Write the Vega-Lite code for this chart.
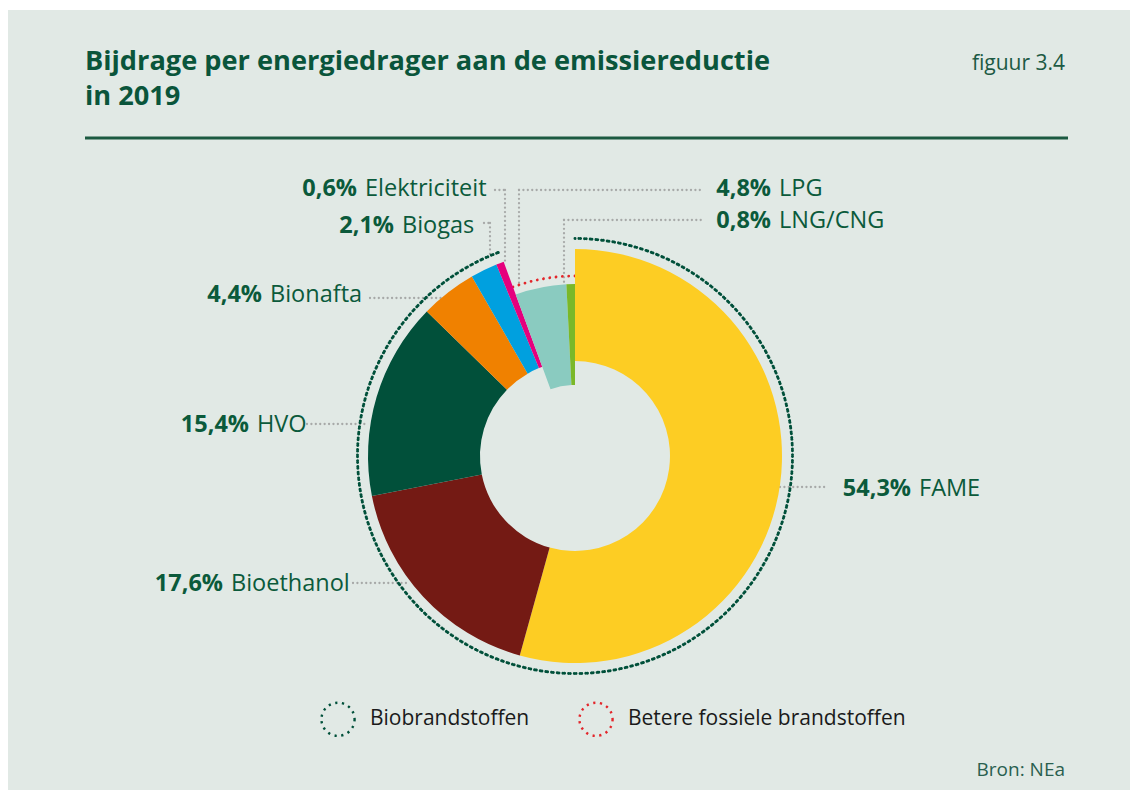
{
  "$schema": "https://vega.github.io/schema/vega-lite/v6.json",
  "width": 1122,
  "height": 780,
  "autosize": {"type": "none"},
  "padding": {"left": 8, "top": 10, "right": 5, "bottom": 6},
  "background": "#ffffff",
  "config": {
    "view": {"fill": "#e1e9e5", "stroke": null},
    "font": "Open Sans",
    "locale": {"number": {"decimal": ",", "thousands": ".", "grouping": [3], "currency": ["€", ""]}}
  },
  "datasets": {
    "energy": [
      {"name": "FAME", "share": 54.3, "group": "Biobrandstoffen", "order": 1},
      {"name": "Bioethanol", "share": 17.6, "group": "Biobrandstoffen", "order": 2},
      {"name": "HVO", "share": 15.4, "group": "Biobrandstoffen", "order": 3},
      {"name": "Bionafta", "share": 4.4, "group": "Biobrandstoffen", "order": 4},
      {"name": "Biogas", "share": 2.1, "group": "Biobrandstoffen", "order": 5},
      {"name": "Elektriciteit", "share": 0.6, "group": "Biobrandstoffen", "order": 6},
      {"name": "LPG", "share": 4.8, "group": "Betere fossiele brandstoffen", "order": 7},
      {"name": "LNG/CNG", "share": 0.8, "group": "Betere fossiele brandstoffen", "order": 8}
    ],
    "labelAnchors": [
      {"name": "FAME", "lx": 344, "ly": -40},
      {"name": "Bioethanol", "lx": -344, "ly": -135},
      {"name": "HVO", "lx": -318, "ly": 24},
      {"name": "Bionafta", "lx": -305, "ly": 154},
      {"name": "Biogas", "lx": -173, "ly": 223},
      {"name": "Elektriciteit", "lx": -210, "ly": 260},
      {"name": "LPG", "lx": 204, "ly": 260},
      {"name": "LNG/CNG", "lx": 204, "ly": 228}
    ],
    "leaders": [
      {"name": "Elektriciteit", "x": -80, "y": 266, "x2": -70, "y2": 266},
      {"name": "Elektriciteit", "x": -70, "y": 266, "x2": -70, "y2": 193},
      {"name": "Biogas", "x": -91, "y": 233, "x2": -85, "y2": 233},
      {"name": "Biogas", "x": -85, "y": 233, "x2": -85, "y2": 198},
      {"name": "Bionafta", "x": -205, "y": 158, "x2": -132, "y2": 158},
      {"name": "HVO", "x": -268, "y": 32, "x2": -208, "y2": 32},
      {"name": "Bioethanol", "x": -222, "y": -127, "x2": -165, "y2": -127},
      {"name": "FAME", "x": 205, "y": -31, "x2": 253, "y2": -31},
      {"name": "LPG", "x": -56, "y": 266, "x2": 127, "y2": 266},
      {"name": "LPG", "x": -56, "y": 266, "x2": -56, "y2": 169},
      {"name": "LNG/CNG", "x": -11, "y": 236, "x2": 127, "y2": 236},
      {"name": "LNG/CNG", "x": -11, "y": 236, "x2": -11, "y2": 166}
    ]
  },
  "layer": [
    {
      "data": {"name": "leaders"},
      "mark": {"type": "rule", "stroke": "#a7a9a8", "strokeWidth": 2.3, "strokeCap": "round", "strokeDash": [0.01, 4.4]},
      "encoding": {
        "x": {"field": "x", "type": "quantitative", "scale": {"domain": [-567, 555], "nice": false, "zero": false}, "axis": null},
        "y": {"field": "y", "type": "quantitative", "scale": {"domain": [-334, 446], "nice": false, "zero": false}, "axis": null},
        "x2": {"field": "x2"},
        "y2": {"field": "y2"}
      }
    },
    {
      "data": {"name": "energy"},
      "transform": [
        {"aggregate": [{"op": "sum", "field": "share", "as": "share"}, {"op": "min", "field": "order", "as": "order"}], "groupby": ["group"]},
        {"stack": "share", "groupby": [], "sort": [{"field": "order", "order": "ascending"}], "as": ["t0", "t1"]},
        {"filter": "datum.group === 'Biobrandstoffen'"}
      ],
      "mark": {"type": "arc", "filled": false, "innerRadius": 217.5, "outerRadius": 217.5, "strokeWidth": 3, "strokeCap": "round", "strokeDash": [0.01, 5.6857]},
      "encoding": {
        "x": {"datum": 0, "type": "quantitative", "scale": {"domain": [-567, 555], "nice": false, "zero": false}, "axis": null},
        "y": {"datum": 0, "type": "quantitative", "scale": {"domain": [-334, 446], "nice": false, "zero": false}, "axis": null},
        "theta": {"field": "t0", "type": "quantitative", "scale": {"domain": [0, 100], "range": [0, 6.283185307179586]}},
        "theta2": {"field": "t1"},
        "stroke": {
          "field": "group", "type": "nominal",
          "scale": {"domain": ["Biobrandstoffen", "Betere fossiele brandstoffen"], "range": ["#00503a", "#e3262b"]},
          "legend": {
            "title": null, "orient": "none", "legendX": 312, "legendY": 691, "direction": "horizontal",
            "symbolType": "circle", "symbolSize": 1100, "symbolStrokeWidth": 2.4, "symbolDash": [2.2, 4.6],
            "symbolFillColor": "transparent", "labelFont": "Open Sans", "labelFontSize": 21, "labelColor": "#1a1a1a",
            "labelOffset": 14, "columnPadding": 44, "labelLimit": 500, "padding": 0
          }
        }
      }
    },
    {
      "data": {"name": "energy"},
      "transform": [
        {"aggregate": [{"op": "sum", "field": "share", "as": "share"}, {"op": "min", "field": "order", "as": "order"}], "groupby": ["group"]},
        {"stack": "share", "groupby": [], "sort": [{"field": "order", "order": "ascending"}], "as": ["t0", "t1"]},
        {"filter": "datum.group === 'Betere fossiele brandstoffen'"}
      ],
      "mark": {"type": "arc", "filled": false, "innerRadius": 180, "outerRadius": 180, "strokeWidth": 2.8, "strokeCap": "round", "strokeDash": [0.01, 6.3234]},
      "encoding": {
        "x": {"datum": 0, "type": "quantitative"},
        "y": {"datum": 0, "type": "quantitative"},
        "theta": {"field": "t0", "type": "quantitative", "scale": {"domain": [0, 100], "range": [0, 6.283185307179586]}},
        "theta2": {"field": "t1"},
        "stroke": {"field": "group", "type": "nominal"}
      }
    },
    {
      "data": {"name": "energy"},
      "transform": [
        {"stack": "share", "groupby": [], "sort": [{"field": "order", "order": "ascending"}], "as": ["t0", "t1"]},
        {"filter": "datum.group === 'Biobrandstoffen'"}
      ],
      "mark": {"type": "arc", "innerRadius": 95, "outerRadius": 207},
      "encoding": {
        "x": {"datum": 0, "type": "quantitative"},
        "y": {"datum": 0, "type": "quantitative"},
        "theta": {"field": "t0", "type": "quantitative", "scale": {"domain": [0, 100], "range": [0, 6.283185307179586]}},
        "theta2": {"field": "t1"},
        "fill": {
          "field": "name", "type": "nominal", "legend": null,
          "scale": {
            "domain": ["FAME", "Bioethanol", "HVO", "Bionafta", "Biogas", "Elektriciteit", "LPG", "LNG/CNG"],
            "range": ["#fdcd23", "#741a14", "#01503a", "#f08100", "#00a0df", "#e5007d", "#8acbc0", "#7ab829"]
          }
        }
      }
    },
    {
      "data": {"name": "energy"},
      "transform": [
        {"stack": "share", "groupby": [], "sort": [{"field": "order", "order": "ascending"}], "as": ["t0", "t1"]},
        {"filter": "datum.group === 'Betere fossiele brandstoffen'"}
      ],
      "mark": {"type": "arc", "innerRadius": 71, "outerRadius": 172},
      "encoding": {
        "x": {"datum": 0, "type": "quantitative"},
        "y": {"datum": 0, "type": "quantitative"},
        "theta": {"field": "t0", "type": "quantitative", "scale": {"domain": [0, 100], "range": [0, 6.283185307179586]}},
        "theta2": {"field": "t1"},
        "fill": {"field": "name", "type": "nominal", "legend": null}
      }
    },
    {
      "data": {"name": "energy"},
      "transform": [
        {"lookup": "name", "from": {"data": {"name": "labelAnchors"}, "key": "name", "fields": ["lx", "ly"]}},
        {"calculate": "datum.share / 100", "as": "frac"}
      ],
      "encoding": {
        "x": {"field": "lx", "type": "quantitative"},
        "y": {"field": "ly", "type": "quantitative"}
      },
      "layer": [
        {
          "mark": {"type": "text", "align": "right", "baseline": "alphabetic", "dx": -8, "font": "Open Sans", "fontSize": 23.5, "fontWeight": "bold", "fill": "#0b5a3b"},
          "encoding": {"text": {"field": "frac", "type": "quantitative", "format": ".1%"}}
        },
        {
          "mark": {"type": "text", "align": "left", "baseline": "alphabetic", "font": "Open Sans", "fontSize": 23.5, "fill": "#0b5a3b"},
          "encoding": {"text": {"field": "name", "type": "nominal"}}
        }
      ]
    },
    {
      "data": {"values": [{}]},
      "mark": {"type": "text", "text": ["Bijdrage per energiedrager aan de emissiereductie", "in 2019"], "align": "left", "baseline": "alphabetic", "font": "Open Sans", "fontSize": 27.2, "fontWeight": "bold", "lineHeight": 35, "fill": "#0a553b"},
      "encoding": {"x": {"datum": -490, "type": "quantitative"}, "y": {"datum": 386, "type": "quantitative"}}
    },
    {
      "data": {"values": [{}]},
      "mark": {"type": "text", "text": "figuur 3.4", "align": "right", "baseline": "alphabetic", "font": "Open Sans", "fontSize": 21, "fill": "#1c5a44"},
      "encoding": {"x": {"datum": 490, "type": "quantitative"}, "y": {"datum": 386, "type": "quantitative"}}
    },
    {
      "data": {"values": [{}]},
      "mark": {"type": "rule", "stroke": "#1c5a41", "strokeWidth": 3},
      "encoding": {"x": {"datum": -490, "type": "quantitative"}, "x2": {"datum": 493}, "y": {"datum": 318, "type": "quantitative"}}
    },
    {
      "data": {"values": [{}]},
      "mark": {"type": "text", "text": "Bron: NEa", "align": "right", "baseline": "alphabetic", "font": "Open Sans", "fontSize": 19, "fill": "#2a5f4f"},
      "encoding": {"x": {"datum": 490, "type": "quantitative"}, "y": {"datum": -320, "type": "quantitative"}}
    }
  ]
}
